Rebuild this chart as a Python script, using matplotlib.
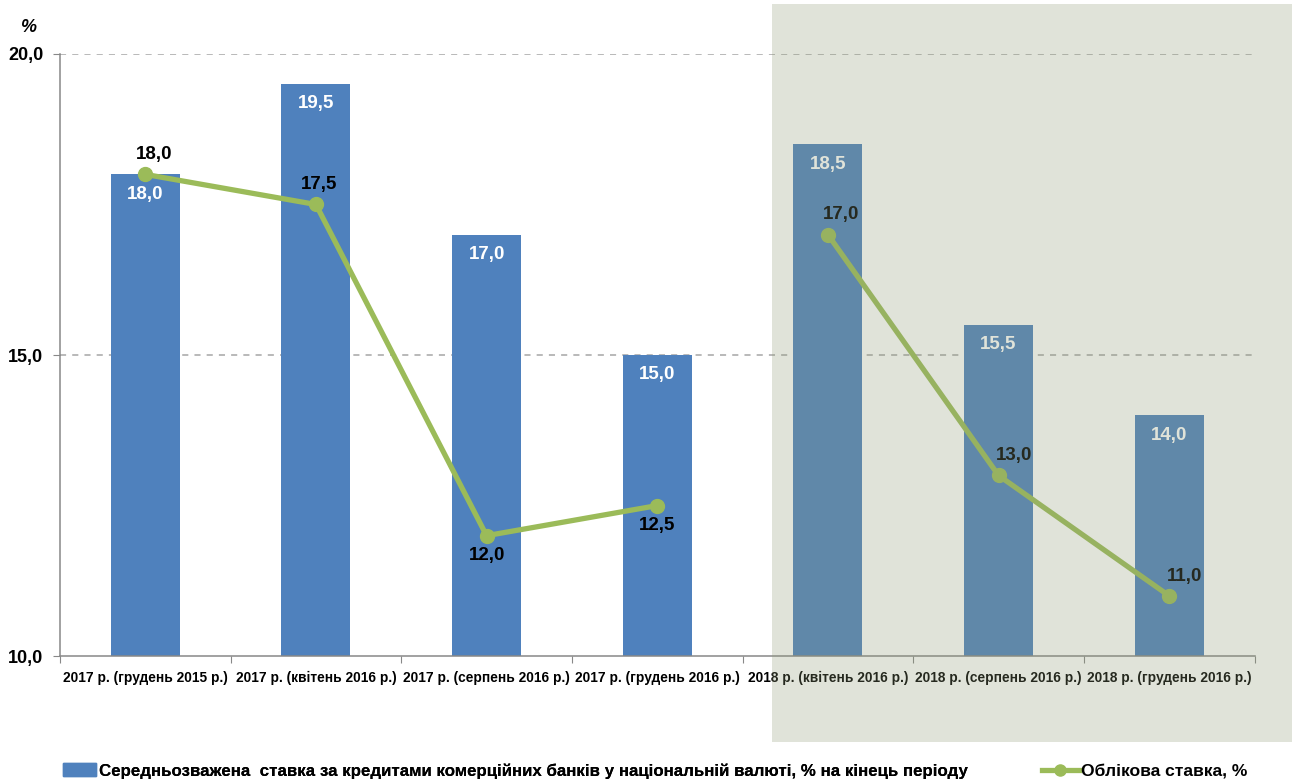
import matplotlib
matplotlib.use("Agg")

import matplotlib.pyplot as plt
from matplotlib.patches import Rectangle
from matplotlib.lines import Line2D
import numpy as np

plt.rcParams["font.family"] = ["Liberation Sans", "DejaVu Sans"]
plt.rcParams["font.weight"] = "bold"

categories = [
    "2017 р. (грудень 2015 р.)",
    "2017 р. (квітень 2016 р.)",
    "2017 р. (серпень 2016 р.)",
    "2017 р. (грудень 2016 р.)",
    "2018 р. (квітень 2016 р.)",
    "2018 р. (серпень 2016 р.)",
    "2018 р. (грудень 2016 р.)",
]
loan_rate = [18.0, 19.5, 17.0, 15.0, 18.5, 15.5, 14.0]
discount_rate = [18.0, 17.5, 12.0, 12.5, 17.0, 13.0, 11.0]
# line is drawn in two separate pieces
line_groups = [[0, 1, 2, 3], [4, 5, 6]]
# label above (+) or below (-) the point
line_label_side = [1, 1, -1, -1, 1, 1, 1]
line_label_dx = [0.05, 0.02, 0.0, 0.0, 0.08, 0.09, 0.09]

BLUE = "#4F81BD"
GREEN = "#9BBB59"

def fmt(v):
    return f"{v:.1f}".replace(".", ",")

fig = plt.figure(figsize=(12.92, 7.82), dpi=100)
ax = fig.add_axes([0.0464, 0.161, 0.9246, 0.770])

x = np.arange(len(categories))
ax.bar(x, loan_rate, width=0.405, color=BLUE, zorder=2)
for xi, v in zip(x, loan_rate):
    ax.text(xi, v - 0.33, fmt(v), ha="center", va="center", color="white",
            fontsize=13.5, fontweight="bold", zorder=5)

for g in line_groups:
    ax.plot(x[g], [discount_rate[i] for i in g], color=GREEN, linewidth=3.8,
            marker="o", markersize=10, zorder=3, solid_capstyle="round")
for xi, v, s, dx in zip(x, discount_rate, line_label_side, line_label_dx):
    ax.text(xi + dx, v + s * 0.33, fmt(v), ha="center", va="center", color="black",
            fontsize=13.5, fontweight="bold", zorder=5)

ax.set_xlim(-0.5, len(categories) - 0.5)
ax.set_ylim(10, 20)
ax.set_yticks([10, 15, 20])
ax.set_yticklabels([fmt(v) for v in [10, 15, 20]], fontsize=13, fontweight="bold")
for yv in [15, 20]:
    ax.axhline(yv, color="#A6A6A6", linestyle=(0, (4, 4)), linewidth=1.1, zorder=1)

ax.set_xticks(np.arange(-0.5, len(categories) + 0.5, 1.0))
ax.set_xticklabels([])
ax.set_xticks(x, minor=True)
ax.set_xticklabels(categories, minor=True, fontsize=9.9, fontweight="bold")
ax.tick_params(axis="x", which="minor", length=0, pad=11)
ax.tick_params(axis="x", which="major", length=5, color="#888888", direction="out")
ax.tick_params(axis="y", length=5, color="#888888", pad=7)

for side in ["top", "right"]:
    ax.spines[side].set_visible(False)
for side in ["left", "bottom"]:
    ax.spines[side].set_color("#888888")
    ax.spines[side].set_linewidth(1.1)
ax.spines["bottom"].set_zorder(4)

fig.text(28 / 1292, 1 - 28 / 782, "%", ha="center", va="center", fontsize=13, fontweight="bold",
         style="italic")

# legend, two pieces placed separately
leg1 = fig.legend([Rectangle((0, 0), 1, 1, color=BLUE)],
                  ["Середньозважена  ставка за кредитами комерційних банків у національній валюті, % на кінець періоду"],
                  loc="center left", bbox_to_anchor=(48 / 1292, 1 - 771 / 782), frameon=False,
                  handlelength=1.95, handleheight=0.8, handletextpad=0.15,
                  prop={"weight": "bold", "size": 12.2})
fig.legend([Line2D([0], [0], color=GREEN, linewidth=3.8, marker="o", markersize=8)],
           ["Облікова ставка, %"],
           loc="center left", bbox_to_anchor=(1026 / 1292, 1 - 771 / 782), frameon=False,
           handlelength=2.1, handletextpad=0.15, prop={"weight": "bold", "size": 12.6})
fig.add_artist(leg1)

# shaded forecast overlay
fig.patches.append(Rectangle((772 / 1292, 1 - 742 / 782), 1 - 772 / 1292, 738 / 782,
                             transform=fig.transFigure, facecolor="#8F9B75", alpha=0.27,
                             edgecolor="none", zorder=10))

fig.savefig("out.png", dpi=100)
